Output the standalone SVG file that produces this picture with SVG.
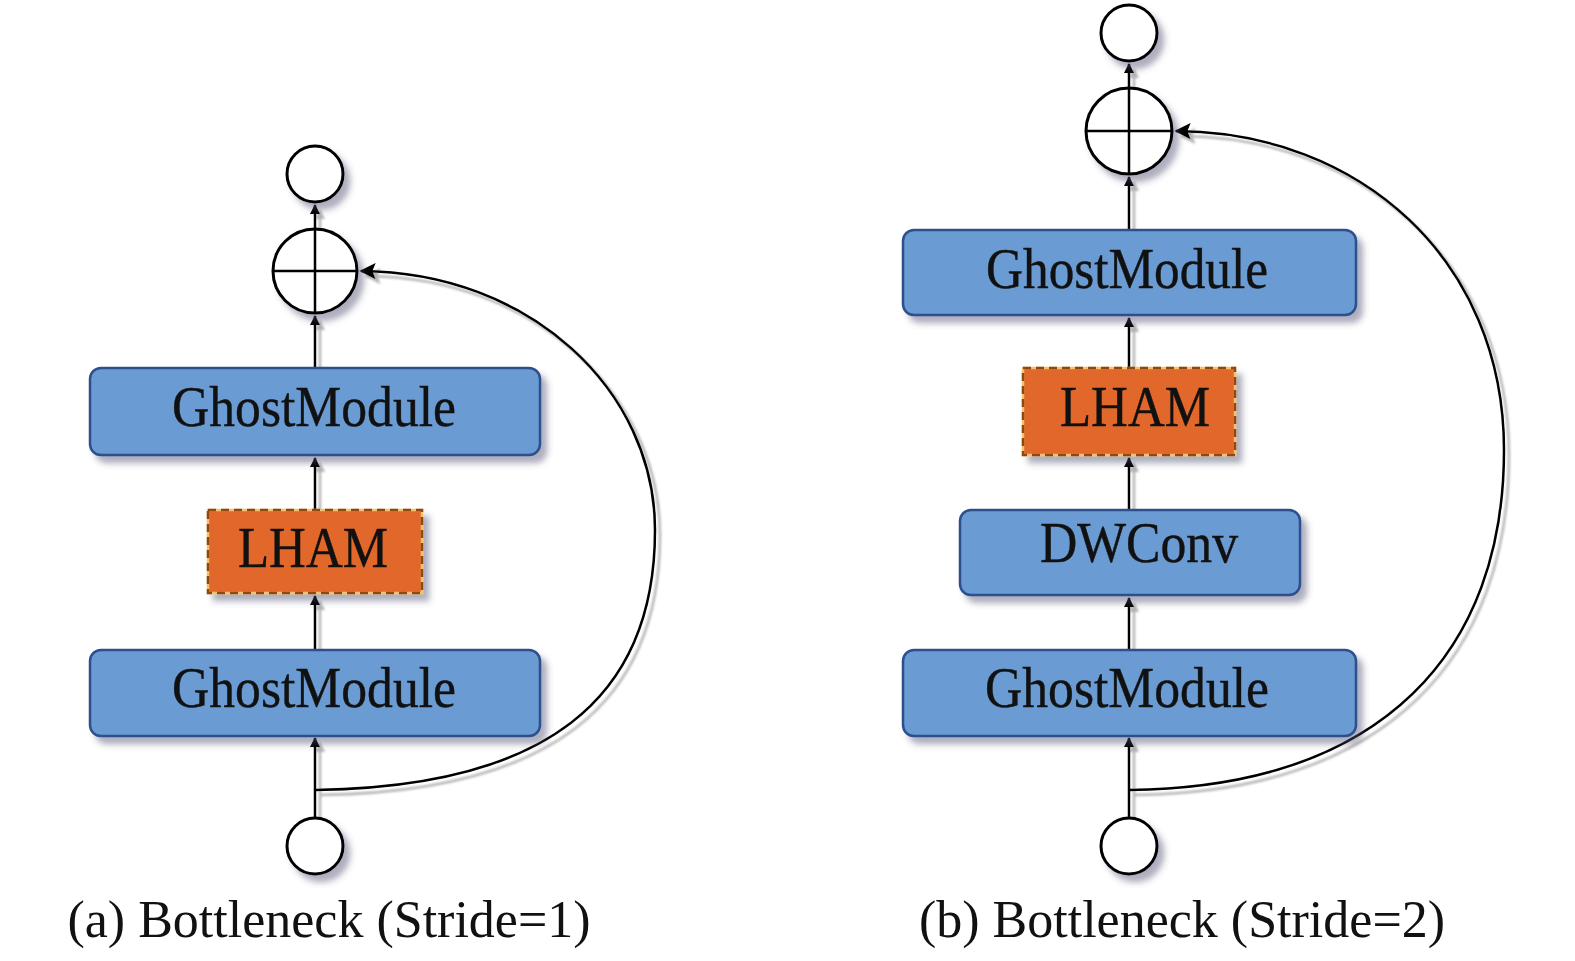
<svg xmlns="http://www.w3.org/2000/svg" width="1575" height="961" viewBox="0 0 1575 961">
<defs>
<filter id="sh" x="-20%" y="-20%" width="150%" height="160%">
<feDropShadow dx="6" dy="7" stdDeviation="3" flood-color="#4a4a70" flood-opacity="0.45"/>
</filter>
<filter id="lsh" x="-10%" y="-10%" width="130%" height="130%">
<feDropShadow dx="5" dy="5" stdDeviation="1.2" flood-color="#777" flood-opacity="0.55"/>
</filter>
<marker id="sa" viewBox="0 0 10 10" refX="9" refY="5" markerWidth="4" markerHeight="4" orient="auto" markerUnits="strokeWidth">
<path d="M0,0 L10,5 L0,10 z" fill="#000"/>
</marker>
<marker id="ba" viewBox="0 0 10 10" refX="9" refY="5" markerWidth="6.5" markerHeight="6.5" orient="auto" markerUnits="strokeWidth">
<path d="M0,0 L10,5 L0,10 L2,5 z" fill="#000"/>
</marker>
</defs>
<style>
.blue{fill:#6a9bd2;stroke:#2d4f8e;stroke-width:2.5}
.orange{fill:#e1672a;stroke:#f2c46a;stroke-width:2.5}
.dash{fill:none;stroke:#8f4718;stroke-width:2.5;stroke-dasharray:8 5}
.circ{fill:#fff;stroke:#000;stroke-width:3}
.ln{fill:none;stroke:#000;stroke-width:2.5}
.t{font-family:"Liberation Serif","Times New Roman",serif;font-size:56px;fill:#111;text-anchor:middle;stroke:#111;stroke-width:0.4}
.cap{font-family:"Liberation Serif","Times New Roman",serif;font-size:52px;fill:#111;text-anchor:middle}
</style>
<rect width="1575" height="961" fill="#fff"/>

<g id="connectors" filter="url(#lsh)">
<!-- (a) -->
<line class="ln" x1="315" y1="817" x2="315" y2="738" marker-end="url(#sa)"/>
<line class="ln" x1="315" y1="650" x2="315" y2="596" marker-end="url(#sa)"/>
<line class="ln" x1="315" y1="510" x2="315" y2="458" marker-end="url(#sa)"/>
<line class="ln" x1="315" y1="368" x2="315" y2="316" marker-end="url(#sa)"/>
<line class="ln" x1="315" y1="229" x2="315" y2="205" marker-end="url(#sa)"/>
<path class="ln" d="M315,790 C545,787 655,700 655,530 C655,390 530,272 361,271" marker-end="url(#ba)"/>
<!-- (b) -->
<line class="ln" x1="1129" y1="817" x2="1129" y2="738" marker-end="url(#sa)"/>
<line class="ln" x1="1129" y1="650" x2="1129" y2="598" marker-end="url(#sa)"/>
<line class="ln" x1="1129" y1="510" x2="1129" y2="458" marker-end="url(#sa)"/>
<line class="ln" x1="1129" y1="368" x2="1129" y2="318" marker-end="url(#sa)"/>
<line class="ln" x1="1129" y1="230" x2="1129" y2="177" marker-end="url(#sa)"/>
<line class="ln" x1="1129" y1="88" x2="1129" y2="64" marker-end="url(#sa)"/>
<path class="ln" d="M1129,790 C1385,787 1504,650 1504,450 C1504,260 1360,132 1176,131" marker-end="url(#ba)"/>
</g>

<!-- (a) nodes -->
<g id="a-out"><circle class="circ" cx="315" cy="174" r="28" filter="url(#sh)"/></g>
<g id="a-add">
<circle class="circ" cx="315" cy="271" r="42" filter="url(#sh)"/>
<line class="ln" x1="273" y1="271" x2="357" y2="271"/>
<line class="ln" x1="315" y1="229" x2="315" y2="313"/>
</g>
<g id="a-ghost2">
<rect class="blue" x="90" y="368" width="450" height="87" rx="11" filter="url(#sh)"/>
<text class="t" x="314" y="426" textLength="284" lengthAdjust="spacingAndGlyphs">GhostModule</text>
</g>
<g id="a-lham">
<rect class="orange" x="208" y="510" width="214" height="83" filter="url(#sh)"/>
<rect class="dash" x="208" y="510" width="214" height="83"/>
<text class="t" x="313" y="567" textLength="150" lengthAdjust="spacingAndGlyphs">LHAM</text>
</g>
<g id="a-ghost1">
<rect class="blue" x="90" y="650" width="450" height="86" rx="11" filter="url(#sh)"/>
<text class="t" x="314" y="707" textLength="284" lengthAdjust="spacingAndGlyphs">GhostModule</text>
</g>
<g id="a-in"><circle class="circ" cx="315" cy="846" r="28" filter="url(#sh)"/></g>

<!-- (b) nodes -->
<g id="b-out"><circle class="circ" cx="1129" cy="33" r="28" filter="url(#sh)"/></g>
<g id="b-add">
<circle class="circ" cx="1129" cy="131" r="43" filter="url(#sh)"/>
<line class="ln" x1="1086" y1="131" x2="1172" y2="131"/>
<line class="ln" x1="1129" y1="88" x2="1129" y2="174"/>
</g>
<g id="b-ghost2">
<rect class="blue" x="903" y="230" width="453" height="85" rx="11" filter="url(#sh)"/>
<text class="t" x="1127" y="288" textLength="282" lengthAdjust="spacingAndGlyphs">GhostModule</text>
</g>
<g id="b-lham">
<rect class="orange" x="1023" y="368" width="212" height="87" filter="url(#sh)"/>
<rect class="dash" x="1023" y="368" width="212" height="87"/>
<text class="t" x="1135" y="426" textLength="150" lengthAdjust="spacingAndGlyphs">LHAM</text>
</g>
<g id="b-dwconv">
<rect class="blue" x="960" y="510" width="340" height="85" rx="11" filter="url(#sh)"/>
<text class="t" x="1139" y="562" textLength="198" lengthAdjust="spacingAndGlyphs">DWConv</text>
</g>
<g id="b-ghost1">
<rect class="blue" x="903" y="650" width="453" height="86" rx="11" filter="url(#sh)"/>
<text class="t" x="1127" y="707" textLength="284" lengthAdjust="spacingAndGlyphs">GhostModule</text>
</g>
<g id="b-in"><circle class="circ" cx="1129" cy="846" r="28" filter="url(#sh)"/></g>

<text class="cap" x="329" y="937">(a) Bottleneck (Stride=1)</text>
<text class="cap" x="1182" y="937">(b) Bottleneck (Stride=2)</text>
</svg>
